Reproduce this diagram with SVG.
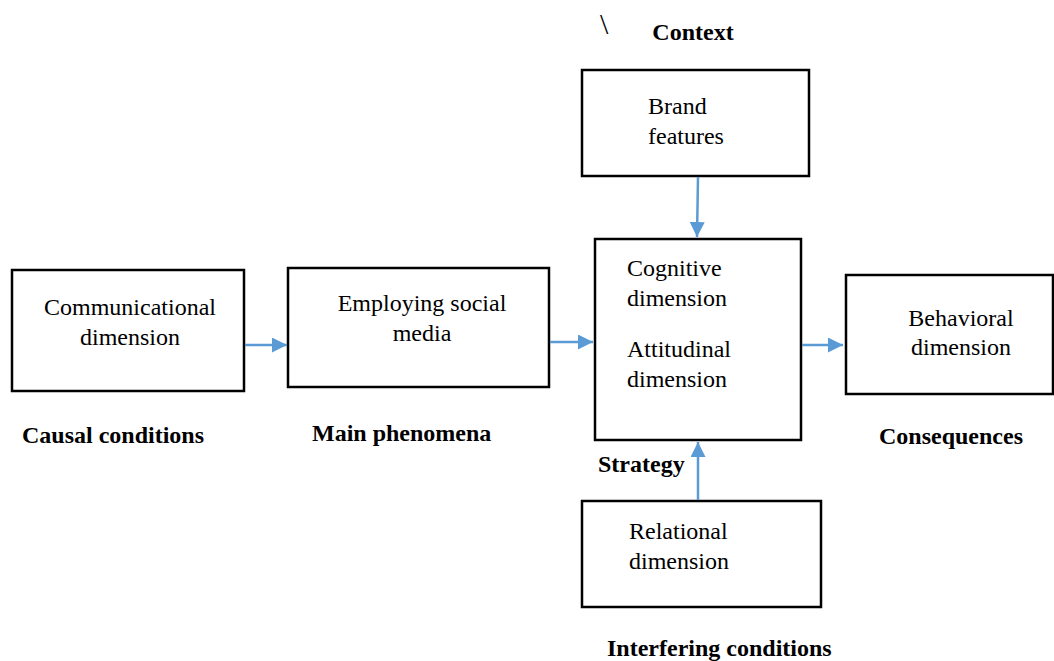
<svg xmlns="http://www.w3.org/2000/svg" width="1054" height="661" viewBox="0 0 1054 661">
<defs>
<style>
.box{fill:#fff;stroke:#000;stroke-width:2.5}
.t{font-family:"Liberation Serif","Times New Roman",serif;font-size:24px;fill:#000}
.b{font-family:"Liberation Serif","Times New Roman",serif;font-size:24px;font-weight:bold;fill:#000}
.c{text-anchor:middle}
.arr{stroke:#5B9BD5;stroke-width:2.5;fill:none;marker-end:url(#ah)}
</style>
<marker id="ah" viewBox="0 0 10 10" refX="10" refY="5" markerWidth="6" markerHeight="6" markerUnits="strokeWidth" orient="auto">
<path d="M0,0 L10,5 L0,10 z" fill="#5B9BD5"/>
</marker>
</defs>
<rect width="1054" height="661" fill="#fff"/>
<text class="t" x="600" y="34" style="font-size:30px">\</text>
<text class="b c" x="693" y="40">Context</text>
<g id="brand">
<rect class="box" x="582" y="70" width="227" height="106"/>
<text class="t" x="648" y="114">Brand</text>
<text class="t" x="648" y="144">features</text>
</g>
<g id="communicational">
<rect class="box" x="12" y="270" width="232" height="121"/>
<text class="t c" x="130" y="315">Communicational</text>
<text class="t c" x="130" y="345">dimension</text>
</g>
<g id="employing">
<rect class="box" x="288" y="268" width="261" height="119"/>
<text class="t c" x="422" y="311">Employing social</text>
<text class="t c" x="422" y="341">media</text>
</g>
<g id="strategy">
<rect class="box" x="595" y="239" width="206" height="201"/>
<text class="t" x="627" y="276">Cognitive</text>
<text class="t" x="627" y="306">dimension</text>
<text class="t" x="627" y="357">Attitudinal</text>
<text class="t" x="627" y="387">dimension</text>
</g>
<g id="behavioral">
<rect class="box" x="846" y="275" width="207" height="119"/>
<text class="t c" x="961" y="326">Behavioral</text>
<text class="t c" x="961" y="355">dimension</text>
</g>
<g id="relational">
<rect class="box" x="582" y="501" width="239" height="106"/>
<text class="t" x="629" y="539">Relational</text>
<text class="t" x="629" y="569">dimension</text>
</g>
<g id="labels">
<text class="b" x="22" y="443">Causal conditions</text>
<text class="b" x="312" y="441">Main phenomena</text>
<text class="b" x="879" y="444">Consequences</text>
<text class="b" x="598" y="472">Strategy</text>
<text class="b" x="607" y="656">Interfering conditions</text>
</g>
<g id="connectors">
<line class="arr" x1="698" y1="177" x2="697" y2="237"/>
<line class="arr" x1="245" y1="345" x2="287" y2="345"/>
<line class="arr" x1="550" y1="342" x2="593" y2="342"/>
<line class="arr" x1="802" y1="345" x2="843" y2="345"/>
<line class="arr" x1="698" y1="500" x2="698" y2="442"/>
</g>
</svg>
